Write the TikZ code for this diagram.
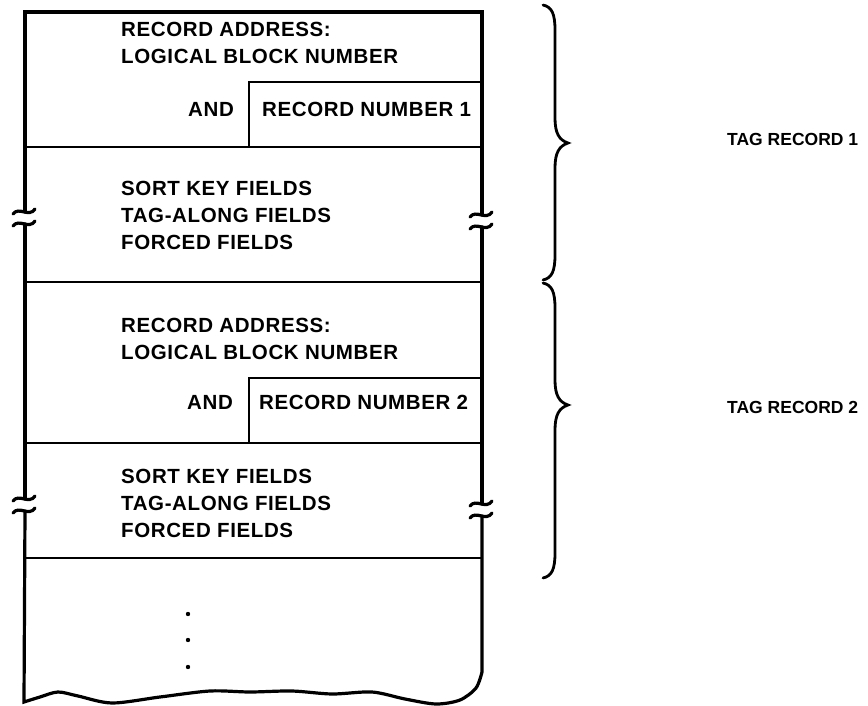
\documentclass[tikz,border=0pt]{standalone}
\usepackage{fontspec}
\setmainfont{Liberation Sans}
\newfontfamily\fieldfont[LetterSpace=3]{Liberation Sans}
\usetikzlibrary{positioning}
\newcommand\brkmark[2]{%
  \draw[outl] (#1-12,#2+2) .. controls (#1-6,#2-6) and (#1+4,#2+6) .. (#1+10,#2-3);
  \draw[outl] (#1-12,#2+14) .. controls (#1-6,#2+6) and (#1+4,#2+18) .. (#1+10,#2+9);}

\begin{document}
\begin{tikzpicture}[x=1pt,y=-1pt,
      fld/.style={font=\fieldfont\bfseries\fontsize{20.5}{27}\selectfont,
                  inner sep=0pt,align=left,anchor=base west},
      tag/.style={font=\bfseries\fontsize{17.5}{21}\selectfont,inner sep=0pt,
                  anchor=base west},
      outl/.style={line width=3.2pt,line cap=round},
      sep/.style={line width=1.8pt},
      brc/.style={line width=2.8pt,line cap=round}]
    \useasboundingbox (0,0) rectangle (868,706);
    % outline of the tag file, broken twice on each side
    \draw[outl] (25,212) -- (25,12) -- (482,12) -- (482,215);
    \draw[outl] (25,224) -- (25,499);
    \draw[outl] (482,227) -- (482,504);
    \draw[outl] (482,516) -- (482,672)
      plot[smooth] coordinates {(482,672) (476,688) (460,700) (436,704)
        (405,699) (372,692) (332,694) (292,691) (250,692) (210,691)
        (160,697) (112,703) (78,696) (58,692) (40,697) (24,702)}
      -- (25,511);
    \brkmark{25}{212}
    \brkmark{482}{215}
    \brkmark{25}{499}
    \brkmark{482}{504}
    % separators
    \draw[sep] (249,147) -- (249,82) -- (482,82);
    \draw[sep] (25,147) -- (482,147);
    \draw[sep] (25,282) -- (482,282);
    \draw[sep] (249,443) -- (249,378) -- (482,378);
    \draw[sep] (25,443) -- (482,443);
    \draw[sep] (25,558) -- (482,558);
    % record 1 (multi-line texts sit on their last baseline)
    \node[fld] (ra1) at (121,64) {RECORD ADDRESS:\\LOGICAL BLOCK NUMBER};
    \node[fld] (and1) at (188,117) {AND};
    \node[fld] (rn1) at (262,117) {RECORD NUMBER 1};
    \node[fld] (sk1) at (121,249) {SORT KEY FIELDS\\TAG-ALONG FIELDS\\FORCED FIELDS};
    % record 2
    \node[fld] (ra2) at (121,359) {RECORD ADDRESS:\\LOGICAL BLOCK NUMBER};
    \node[fld] (and2) at (187,409) {AND};
    \node[fld] (rn2) at (259,409) {RECORD NUMBER 2};
    \node[fld] (sk2) at (121,537) {SORT KEY FIELDS\\TAG-ALONG FIELDS\\FORCED FIELDS};
    \foreach \y in {614,640,667}
      \fill (188,\y) circle (2.2);
    % braces and their labels
    \draw[brc] (543,5) .. controls (552,7) and (555,14) .. (555,30) -- (555,118)
      .. controls (555,133) and (559,140) .. (568,143)
      .. controls (559,146) and (555,153) .. (555,168) -- (555,255)
      .. controls (555,271) and (552,278) .. (543,280);
    \draw[brc] (543,283) .. controls (552,285) and (555,292) .. (555,308) -- (555,380)
      .. controls (555,395) and (559,402) .. (568,405)
      .. controls (559,408) and (555,415) .. (555,430) -- (555,553)
      .. controls (555,569) and (552,576) .. (543,578);
    \node[tag] (tr1) at (727,146) {TAG RECORD 1};
    \node[tag] (tr2) at (727,413) {TAG RECORD 2};
\end{tikzpicture}
\end{document}
